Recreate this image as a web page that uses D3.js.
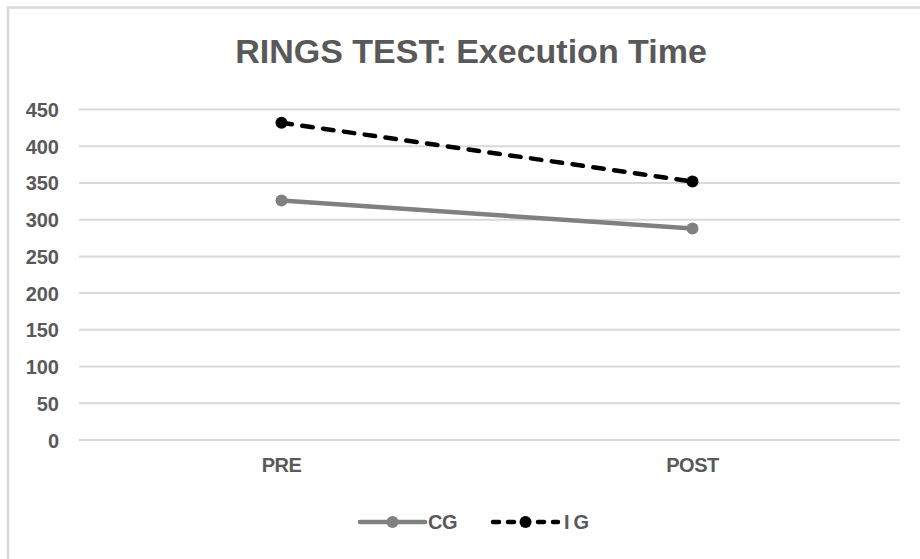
<!DOCTYPE html>
<html lang="en">
<head>
  <meta charset="UTF-8" />
  <title>RINGS TEST: Execution Time</title>
  <script src="https://d3js.org/d3.v7.min.js"></script>
  <style>
    html, body { margin: 0; padding: 0; background: #fff; }
    svg { display: block; font-family: Arial, "Liberation Sans", sans-serif; }
    .tick text { fill: #595959; font-weight: bold; }
  </style>
</head>
<body>
  <svg id="chart" width="920" height="559"></svg>
  <script>
    // Datos del gráfico
    const categories = ["PRE", "POST"];
    const cgValues = [326, 288];
    const igValues = [432, 352];
    const yTicks = [0, 50, 100, 150, 200, 250, 300, 350, 400, 450];
    const seriesNames = ["CG", "IG"];

    const width = 920, height = 559;
    const plot = { left: 79, right: 900, top: 109.5, bottom: 440 };

    const svg = d3.select("#chart");

    // Marco del área del gráfico (se sale por la derecha y abajo)
    svg.append("rect")
      .attr("x", 8).attr("y", 7.5)
      .attr("width", 940).attr("height", 580)
      .attr("fill", "#fff")
      .attr("stroke", "#d9d9d9")
      .attr("stroke-width", 2.5);

    const x = d3.scaleBand().domain(categories).range([76, 898]);
    const y = d3.scaleLinear().domain([0, 450]).range([plot.bottom, plot.top]);

    // Líneas de cuadrícula
    svg.append("g")
      .selectAll("line")
      .data(yTicks)
      .enter().append("line")
      .attr("x1", plot.left).attr("x2", plot.right)
      .attr("y1", d => y(d)).attr("y2", d => y(d))
      .attr("stroke", "#d9d9d9")
      .attr("stroke-width", 2);

    // Eje Y
    const yAxis = svg.append("g")
      .attr("transform", "translate(59,0)")
      .call(d3.axisLeft(y).tickValues(yTicks).tickSize(0).tickPadding(0));
    yAxis.select(".domain").remove();
    yAxis.selectAll("text").attr("font-size", 20).attr("dy", "0.35em");

    // Eje X
    const xAxis = svg.append("g")
      .attr("transform", `translate(0,${plot.bottom})`)
      .call(d3.axisBottom(x).tickSize(0).tickPadding(18));
    xAxis.select(".domain").remove();
    xAxis.selectAll("text").attr("font-size", 20).attr("letter-spacing", "-0.5px");

    // Título
    svg.append("text")
      .attr("x", 471).attr("y", 62.5)
      .attr("text-anchor", "middle")
      .attr("fill", "#595959")
      .attr("font-size", 34)
      .attr("font-weight", "bold")
      .text("RINGS TEST: Execution Time");

    const cx = d => x(d) + x.bandwidth() / 2;
    const lineGen = d3.line().x(d => cx(d.cat)).y(d => y(d.v));

    const series = [
      { name: seriesNames[0], values: cgValues, color: "#808080", dash: null },
      { name: seriesNames[1], values: igValues, color: "#000000", dash: "10.5,10.5" }
    ];

    series.forEach(s => {
      const pts = categories.map((c, i) => ({ cat: c, v: s.values[i] }));
      svg.append("path")
        .datum(pts)
        .attr("d", lineGen)
        .attr("fill", "none")
        .attr("stroke", s.color)
        .attr("stroke-width", 4.5)
        .attr("stroke-linecap", "round")
        .attr("stroke-dasharray", s.dash);
      svg.append("g")
        .selectAll("circle")
        .data(pts)
        .enter().append("circle")
        .attr("cx", d => cx(d.cat))
        .attr("cy", d => y(d.v))
        .attr("r", 6)
        .attr("fill", s.color);
    });

    // Leyenda
    const legendY = 522;
    const legendItems = [
      { x0: 360, x1: 425, tx: 428 },
      { x0: 493, x1: 558, tx: 564 }
    ];
    series.forEach((s, i) => {
      const li = legendItems[i];
      const g = svg.append("g");
      g.append("line")
        .attr("x1", li.x0).attr("x2", li.x1)
        .attr("y1", legendY).attr("y2", legendY)
        .attr("stroke", s.color)
        .attr("stroke-width", 4.5)
        .attr("stroke-linecap", "round")
        .attr("stroke-dasharray", s.dash ? "6,9" : null);
      g.append("circle")
        .attr("cx", (li.x0 + li.x1) / 2).attr("cy", legendY)
        .attr("r", 6).attr("fill", s.color);
      g.append("text")
        .attr("x", li.tx).attr("y", legendY)
        .attr("dy", "0.35em")
        .attr("fill", "#595959")
        .attr("font-size", 20)
        .attr("font-weight", "bold")
        .attr("letter-spacing", s.name === "IG" ? "4px" : "-0.5px")
        .text(s.name);
    });
  </script>
</body>
</html>
